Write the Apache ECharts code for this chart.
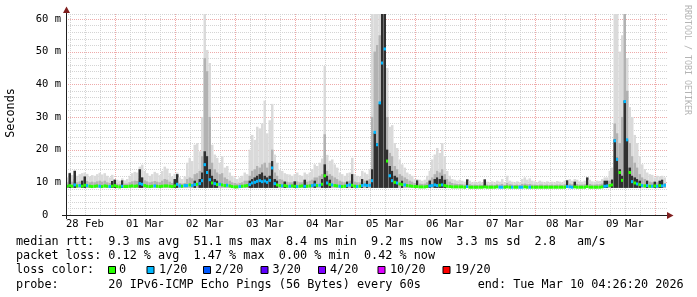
<!DOCTYPE html>
<html><head><meta charset="utf-8">
<script src="https://cdn.jsdelivr.net/npm/echarts@6/dist/echarts.min.js"></script>
<style>html,body{margin:0;padding:0;background:#fff}#c{width:697px;height:297px}</style>
</head><body><div id="c"></div><script>
// ---- data (hourly samples starting 28 Feb 04:26:20, one row per 24 h) ----
const startHour = 4 + 26 / 60 + 20 / 3600;      // hours since 28 Feb 00:00
const spanHours = 240;
const minRtt = 8.3;                               // lowest ping (smoke floor), ms
const yTop = 61.5;

const dayLabels = ['28 Feb','01 Mar','02 Mar','03 Mar','04 Mar','05 Mar','06 Mar','07 Mar','08 Mar','09 Mar'];

const maxPing = [
 11.5,13.0,12.2,13.8,12.0,12.5,12.8,13.0,12.6,11.8,12.2,12.0,12.5,12.9,12.4,12.8,12.0,11.5,12.3,11.0,10.8,10.5,11.2,10.6,
 11.0,12.0,12.8,13.2,13.0,14.8,15.4,13.5,12.8,12.0,12.5,13.2,12.8,12.2,13.5,14.8,14.2,12.8,11.8,12.6,13.0,11.5,11.0,11.8,
 16.0,17.5,16.5,21.5,22.0,19.5,30.0,62,50.5,46.5,21.5,18.5,17.5,16.0,18.0,14.5,15.0,13.0,12.0,11.5,11.0,11.5,12.0,13.0,
 12.5,20.0,24.5,23.0,27.0,26.5,28.0,35.0,25.0,29.0,34.0,18.5,16.0,13.8,13.5,12.8,12.5,12.4,12.0,12.5,13.0,12.2,12.0,13.0,
 12.5,13.0,14.0,15.5,15.0,16.0,17.3,45.6,18.4,16.6,17.0,15.5,14.5,13.0,12.5,12.0,12.8,13.0,17.5,12.5,12.0,11.8,13.5,13.0,
 12.5,14.0,62,62,62,62,62,62,45.0,27.0,27.5,22.0,20.5,17.0,15.5,14.5,13.0,12.5,12.0,11.0,11.0,10.8,10.5,10.8,
 12.0,13.5,17.0,18.5,20.5,19.0,22.0,18.0,13.5,12.0,11.0,10.8,10.5,10.8,10.5,10.2,10.9,10.5,10.0,10.2,10.0,10.3,10.0,10.9,
 10.2,10.0,10.3,10.0,10.5,10.2,11.0,10.0,12.0,10.5,10.2,10.0,10.3,10.0,11.0,11.5,10.8,11.2,10.5,10.3,10.0,10.5,10.2,10.0,
 10.3,10.0,10.2,10.0,10.4,10.2,10.0,10.5,10.8,11.0,10.5,11.0,10.8,10.3,10.2,10.5,11.5,10.8,10.3,10.2,10.5,10.4,11.0,11.5,
 11.5,13.5,14.5,62,62,50.0,55.0,62,48.0,33.0,30.0,24.5,22.0,18.0,15.5,14.0,13.0,12.5,12.3,11.5,12.0,11.8,12.0,11.5
];
const midPing = [
 10.0,10.5,10.2,11.0,10.0,10.3,10.5,10.8,10.4,10.0,10.2,10.0,10.3,10.5,10.2,10.5,10.0,9.8,10.2,9.8,9.6,9.5,9.8,9.6,
 9.6,10.0,10.3,10.5,10.4,11.2,11.5,10.6,10.3,10.0,10.2,10.4,10.2,10.0,10.5,11.0,10.8,10.2,9.8,10.2,10.5,9.8,9.6,9.8,
 11.0,11.5,11.2,12.5,12.8,13.5,18.0,48.0,44.0,30.0,16.0,14.0,13.0,12.5,12.8,11.5,11.0,10.5,10.0,9.8,9.6,9.8,10.0,10.5,
 10.5,12.0,13.5,14.0,15.0,14.5,15.5,16.0,14.5,16.0,20.0,13.0,12.0,11.0,10.8,10.4,10.2,10.0,10.0,10.2,10.3,10.0,10.0,10.4,
 10.2,10.5,10.8,11.5,11.5,12.0,12.5,24.7,13.5,12.5,12.0,11.5,11.0,10.5,10.2,10.0,10.3,10.5,11.0,10.2,10.0,10.0,10.5,10.5,
 10.5,11.0,30.0,50.0,52.0,55.0,62,62,30.0,19.0,18.0,15.0,14.0,12.5,12.0,11.5,11.0,10.5,10.2,9.8,9.6,9.6,9.5,9.6,
 10.0,10.8,11.5,12.5,13.5,13.0,14.0,12.5,11.0,10.2,9.8,9.6,9.5,9.5,9.4,9.3,9.5,9.4,9.2,9.3,9.2,9.3,9.2,9.4,
 9.3,9.2,9.3,9.2,9.4,9.3,9.5,9.2,9.8,9.4,9.3,9.2,9.3,9.2,9.5,9.6,9.4,9.5,9.3,9.3,9.2,9.3,9.3,9.2,
 9.3,9.2,9.3,9.2,9.3,9.3,9.2,9.4,9.5,9.6,9.4,9.5,9.5,9.3,9.3,9.4,9.8,9.5,9.3,9.3,9.4,9.4,9.6,9.8,
 9.8,10.5,11.0,28.0,25.0,22.0,30.0,62,38.0,22.0,18.0,16.0,14.5,12.5,11.5,11.0,10.5,10.2,10.0,9.8,10.0,9.8,10.0,9.8
];
const corePing = [
 0,12.8,0,13.5,0,0,10.5,11.8,0,0,0,0,0,0,0,0,0,0,10.4,10.8,0,0,10.6,0,
 0,0,0,0,0,14.0,11.5,0,0,0,0,0,0,0,0,0,0,0,0,11.0,12.5,0,0,0,
 0,0,0,10.5,0,11.0,13.0,19.5,18.0,14.0,12.0,11.0,10.5,0,0,0,0,0,0,0,0,0,0,0,
 0,10.5,11.0,11.5,12.0,12.5,13.0,12.0,11.5,12.0,16.5,11.0,10.5,0,0,10.2,0,0,0,10.3,0,0,0,10.8,
 0,0,0,10.5,0,0,11.0,15.5,12.0,10.8,0,0,0,0,0,0,10.2,0,12.5,0,0,0,11.0,0,
 10.5,0,14.0,25.0,22.0,34.0,62,62,20.0,15.0,13.5,12.0,11.5,0,10.5,0,0,0,0,0,10.6,0,0,0,
 0,10.5,0,11.0,11.5,11.0,12.0,10.8,0,0,0,0,0,0,0,0,10.9,0,0,0,0,0,0,10.9,
 0,0,0,0,0,0,0,0,0,0,0,0,0,0,0,0,0,0,0,0,0,0,0,0,
 0,0,0,0,0,0,0,0,10.6,0,0,10.2,0,0,0,0,11.5,0,0,0,0,0,0,10.5,
 10.5,0,10.8,23.1,17.5,14.0,12.0,35.0,23.0,14.5,12.0,11.5,11.0,10.5,0,0,10.5,0,0,10.2,0,10.5,10.8,0
];
const medianRtt = [
 8.8,9.0,8.8,9.2,8.9,9.0,8.8,9.1,9.0,8.8,8.7,8.8,8.9,8.8,8.7,8.9,8.8,8.7,8.8,9.0,8.7,8.6,8.8,8.7,
 8.7,8.8,8.9,8.8,8.9,9.6,9.4,9.0,8.8,8.7,8.8,8.9,8.8,8.7,8.8,8.9,8.9,8.8,8.7,8.9,9.4,8.9,8.8,9.0,
 9.0,9.2,9.0,9.3,9.4,9.6,10.5,15.4,13.0,10.8,9.8,9.6,9.3,9.4,9.2,9.0,9.1,8.9,8.7,8.6,8.6,8.7,8.8,8.9,
 9.0,9.3,9.8,10.0,10.3,10.5,10.2,10.4,10.0,10.6,14.4,9.6,9.2,9.0,8.9,9.0,8.8,8.8,8.9,8.8,8.7,8.8,8.9,8.8,
 8.8,8.9,9.0,9.2,9.0,9.1,9.4,12.0,9.8,9.3,9.2,9.0,8.9,8.8,8.7,8.8,9.0,9.2,9.1,8.8,8.7,8.8,9.0,9.2,
 9.0,9.1,10.5,25.3,21.5,34.3,46.5,50.8,16.5,12.0,10.5,10.0,9.8,9.5,9.3,9.2,9.0,8.9,8.8,8.7,8.7,8.6,8.6,8.6,
 8.7,8.9,9.0,9.2,9.0,9.1,9.2,9.0,8.8,8.7,8.6,8.6,8.6,8.6,8.6,8.5,8.7,8.5,8.5,8.5,8.5,8.5,8.5,8.6,
 8.5,8.5,8.5,8.5,8.6,8.5,8.5,8.5,8.6,8.5,8.5,8.5,8.5,8.5,8.5,8.6,8.5,8.5,8.5,8.5,8.5,8.5,8.5,8.5,
 8.5,8.5,8.5,8.5,8.5,8.5,8.5,8.5,8.7,8.6,8.5,8.6,8.5,8.5,8.5,8.5,8.7,8.5,8.5,8.5,8.5,8.5,8.6,8.8,
 8.9,9.0,9.2,22.7,17.0,13.0,10.6,34.7,23.0,13.0,10.2,9.8,9.5,9.3,9.0,8.9,9.0,8.8,8.8,8.9,8.8,9.0,8.9,9.1
];
const lostPings = [
 0,0,0,1,0,1,0,0,1,0,0,0,0,1,0,0,0,1,0,0,0,0,1,0,
 0,0,0,0,0,1,1,0,0,0,0,1,0,0,0,0,0,0,0,0,1,1,0,1,
 1,0,1,1,0,1,1,1,1,1,0,1,0,1,0,0,1,0,0,0,0,1,0,0,
 0,1,1,1,1,1,1,1,1,1,1,1,0,0,1,0,0,1,0,0,1,0,0,1,
 0,0,1,1,0,1,0,0,1,0,1,0,0,1,0,0,1,1,0,0,1,0,1,1,
 1,1,1,1,1,1,1,1,0,1,1,0,1,0,0,1,0,0,0,0,0,0,0,0,
 0,1,1,1,1,0,1,0,0,0,0,0,0,0,0,0,1,0,0,0,0,0,0,0,
 0,0,0,0,0,1,1,0,0,0,1,0,0,1,1,0,0,1,0,0,0,0,0,0,
 0,0,0,0,0,0,0,0,1,1,1,0,0,0,0,0,0,0,0,0,0,0,0,1,
 1,0,0,1,1,0,0,1,1,0,1,0,1,0,1,0,1,0,1,0,1,0,1,1
];
const lossSteps  = [0, 1, 2, 3, 4, 10, 19];
const lossLabels = ['0','1/20','2/20','3/20','4/20','10/20','19/20'];
const lossColors = ['#26ff00','#00b8ff','#0059ff','#5e00ff','#7e00ff','#dd00ff','#ff0000'];

const legendLines = [
  'median rtt:  9.3 ms avg  51.1 ms max  8.4 ms min  9.2 ms now  3.3 ms sd  2.8   am/s',
  'packet loss: 0.12 % avg  1.47 % max  0.00 % min  0.42 % now',
  'loss color:',
  'probe:       20 IPv6-ICMP Echo Pings (56 Bytes) every 60s        end: Tue Mar 10 04:26:20 2026'
];

// ---- build ----
const samples = medianRtt.map((m, i) => [startHour + i, m, maxPing[i], midPing[i], corePing[i], lostPings[i]]);
function lossColor(n) { let c = lossColors[0]; lossSteps.forEach((s, k) => { if (n >= s) c = lossColors[k]; }); return c; }

const dayTicks = [], sixTicks = [], noonTicks = [];
for (let h = 6; h < startHour + spanHours; h += 6) {
  if (h < startHour) continue;
  if (h % 24 === 0) dayTicks.push(h); else sixTicks.push(h);
  if (h % 24 === 12) noonTicks.push(h);
}
const yMajor = [0,10,20,30,40,50,60];
const yMinor = [];
for (let v = 2; v < 61; v += 2) if (v % 10) yMinor.push(v);
yMinor.push(yTop);

// grid line items: [x, y, isMajor, isVertical]; minor first so major draws on top
const gridItems = []
  .concat(sixTicks.map(h => [h, 0, 0, 1]))
  .concat(yMinor.map(v => [startHour, v, 0, 0]))
  .concat(dayTicks.map(h => [h, 0, 1, 1]))
  .concat(yMajor.filter(v => v > 0).map(v => [startHour, v, 1, 0]));

const MONO = '"DejaVu Sans Mono", monospace';
const RED = '#eeaaaa', GRAY = '#d4d4d4';

const chart = echarts.init(document.getElementById('c'), null, { renderer: 'canvas' });

function txt(text, x, y, extra) {
  return Object.assign({ type: 'text', x: x, y: y, z: 50,
    style: Object.assign({ text: text, fill: '#000', font: '11.8px ' + MONO,
      align: 'left', verticalAlign: 'middle', textAlign: 'left', textVerticalAlign: 'middle' }, extra || {}) });
}
const seconds = txt('Seconds', 11, 113, { align: 'center', textAlign: 'center' });
seconds.rotation = Math.PI / 2;
const mark = txt('RRDTOOL / TOBI OETIKER', 687.5, 60, { align: 'center', textAlign: 'center', fill: '#b4b4b4', font: '8.3px ' + MONO });
mark.rotation = -Math.PI / 2;
const graphics = [
  { type: 'line', z: 40, shape: { x1: 62, y1: 215.5, x2: 668, y2: 215.5 }, style: { stroke: '#1f1f1f', lineWidth: 1 } },
  { type: 'line', z: 40, shape: { x1: 66.5, y1: 219, x2: 66.5, y2: 12 }, style: { stroke: '#1f1f1f', lineWidth: 1 } },
  { type: 'polygon', z: 41, shape: { points: [[667, 212], [667, 219], [673.5, 215.5]] }, style: { fill: '#801f1f' } },
  { type: 'polygon', z: 41, shape: { points: [[63, 13], [70, 13], [66.5, 6.5]] }, style: { fill: '#801f1f' } },
  seconds, mark,
  txt(legendLines[0], 16, 241.7), txt(legendLines[1], 16, 256),
  txt(legendLines[2], 16, 270.3), txt(legendLines[3], 16, 284.6)
];
const boxX = [108.5, 147, 203.5, 261, 318.5, 378, 443];
const labX = [119, 159, 215, 272.5, 330, 390, 455];
lossLabels.forEach((l, k) => {
  graphics.push({ type: 'rect', z: 50, shape: { x: boxX[k], y: 266.5, width: 7, height: 7 }, style: { fill: lossColors[k], stroke: '#000', lineWidth: 1 } });
  graphics.push(txt(l, labX[k], 270.3));
});

chart.setOption({
  animation: false,
  backgroundColor: '#fff',
  grid: { left: 66, top: 14, width: 600, height: 201 },
  xAxis: { type: 'value', min: startHour, max: startHour + spanHours,
    axisLine: { show: false }, axisTick: { show: false }, splitLine: { show: false },
    axisLabel: { show: true, customValues: noonTicks, margin: 4,
      formatter: v => dayLabels[Math.round((v - 12) / 24)] || '',
      fontFamily: MONO, fontSize: 10.5, color: '#000' } },
  yAxis: { type: 'value', min: 0, max: yTop,
    axisLine: { show: false }, axisTick: { show: false }, splitLine: { show: false },
    axisLabel: { show: true, customValues: yMajor, margin: 5,
      formatter: v => v === 0 ? '0  ' : v + ' m',
      fontFamily: MONO, fontSize: 10.5, color: '#000' } },
  series: [{
    type: 'custom', silent: true, clip: false, z: 1,
    data: gridItems,
    encode: { x: 0, y: 1 },
    renderItem: function (params, api) {
      const major = api.value(2) === 1, vertical = api.value(3) === 1;
      const stroke = major ? RED : GRAY;
      let shape;
      if (vertical) {
        const a = api.coord([api.value(0), 0]), b = api.coord([api.value(0), yTop]);
        const x = Math.round(a[0]) + 0.5;
        shape = { x1: x, y1: a[1], x2: x, y2: b[1] };
      } else {
        const a = api.coord([startHour, api.value(1)]), b = api.coord([startHour + spanHours, api.value(1)]);
        const y = Math.round(a[1]) + 0.5;
        shape = { x1: a[0], y1: y, x2: b[0] + 2, y2: y };
      }
      return { type: 'line', shape: shape, style: { stroke: stroke, lineWidth: 1, lineDash: [1, 1] } };
    }
  }, {
    type: 'custom', silent: true, clip: true, z: 2,
    data: samples,
    encode: { x: 0, y: [1, 2] },
    renderItem: function (params, api) {
      const t = api.value(0);
      const base = api.coord([t, minRtt]);
      const right = api.coord([t + 1, minRtt]);
      const w = right[0] - base[0];
      const kids = [];
      const band = (top, fill) => {
        if (!(top > minRtt)) return;
        const p = api.coord([t, Math.min(top, yTop)]);
        kids.push({ type: 'rect', shape: { x: base[0], y: p[1], width: w, height: base[1] - p[1] }, style: { fill: fill } });
      };
      band(api.value(2), '#dadada');
      band(api.value(3), '#b2b2b2');
      band(api.value(4), '#303030');
      const pm = api.coord([t, api.value(1)]);
      kids.push({ type: 'rect', shape: { x: base[0], y: pm[1] - 1.5, width: w, height: 3 }, style: { fill: lossColor(api.value(5)) } });
      return { type: 'group', children: kids };
    }
  }],
  graphic: graphics
});
</script></body></html>
